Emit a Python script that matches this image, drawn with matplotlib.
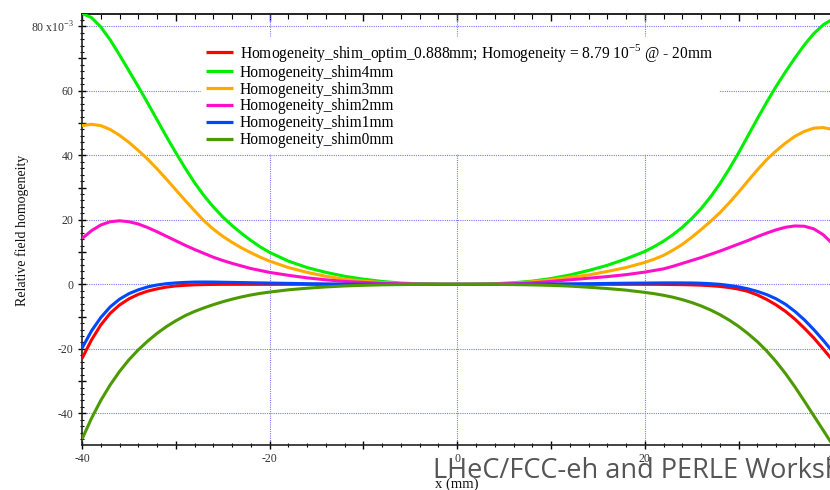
import matplotlib
matplotlib.use("Agg")
import matplotlib.pyplot as plt
from matplotlib.ticker import MultipleLocator, FuncFormatter

# ---------------- data ----------------
x_mm = [-40, -39, -38, -37, -36, -35, -34, -33, -32, -31, -30, -29, -28, -27, -26,
        -25, -24, -23, -22, -21, -20, -18, -16, -14, -12, -10, -8, -6, -4, -2, 0,
        2, 4, 6, 8, 10, 12, 14, 16, 18, 20, 21, 22, 23, 24, 25, 26, 27, 28, 29,
        30, 31, 32, 33, 34, 35, 36, 37, 38, 39, 40]

shim_optim = [-23.0, -17.3, -12.6, -9.0, -6.4, -4.5, -3.1, -2.1, -1.4, -0.85, -0.5, -0.3, -0.15, -0.08, -0.03,
              0.0, 0.0, 0.0, 0.0, 0.0, 0.0, 0.0, 0.0, 0.0, 0.0, 0.0, 0.0, 0.0, 0.0, 0.0, 0.0,
              0.0, 0.0, 0.0, 0.0, 0.0, 0.0, 0.0, 0.0, 0.0, 0.0, 0.0, -0.03, -0.06, -0.1, -0.17, -0.27, -0.42, -0.65, -1.0,
              -1.5, -2.2, -3.3, -4.7, -6.4, -8.4, -10.8, -13.6, -16.6, -20.0, -23.5]

shim4 = [84.0, 82.7, 79.8, 75.8, 71.1, 66.2, 61.3, 56.2, 51.0, 45.8, 40.8, 36.0, 31.5, 27.5, 24.0,
         20.9, 18.2, 15.8, 13.6, 11.6, 9.9, 7.2, 5.2, 3.7, 2.5, 1.6, 0.9, 0.4, 0.15, 0.03, 0.0,
         0.05, 0.2, 0.5, 1.0, 1.8, 2.9, 4.3, 5.9, 7.9, 10.2, 11.7, 13.4, 15.4, 17.7, 20.4, 23.5, 27.1, 31.2, 35.8,
         40.8, 46.1, 51.4, 56.5, 61.4, 65.9, 70.2, 74.2, 77.7, 80.4, 82.2]

shim3 = [49.2, 49.6, 49.2, 48.0, 46.2, 44.0, 41.5, 38.8, 35.8, 32.6, 29.3, 26.0, 22.8, 19.7, 17.1,
         14.9, 13.0, 11.3, 9.8, 8.4, 7.2, 5.2, 3.7, 2.5, 1.6, 1.0, 0.55, 0.25, 0.08, 0.01, 0.0,
         0.02, 0.12, 0.35, 0.8, 1.4, 2.2, 2.9, 4.0, 5.2, 6.8, 7.8, 9.0, 10.6, 12.4, 14.6, 17.0, 19.5, 22.2, 25.3,
         28.6, 32.1, 35.5, 38.7, 41.4, 43.8, 45.9, 47.4, 48.4, 48.6, 48.0]

shim2 = [14.2, 16.6, 18.4, 19.4, 19.7, 19.4, 18.7, 17.6, 16.3, 14.9, 13.5, 12.1, 10.8, 9.6, 8.4,
         7.4, 6.5, 5.7, 4.9, 4.3, 3.7, 2.8, 2.0, 1.4, 0.9, 0.6, 0.3, 0.15, 0.05, 0.01, 0.0,
         0.01, 0.06, 0.2, 0.45, 0.9, 1.4, 1.9, 2.4, 3.0, 3.8, 4.3, 4.8, 5.6, 6.5, 7.4, 8.3, 9.3, 10.3, 11.4,
         12.5, 13.6, 14.8, 15.9, 16.9, 17.7, 18.1, 18.0, 17.2, 15.4, 12.6]

shim1 = [-19.8, -14.5, -10.3, -7.0, -4.6, -2.9, -1.7, -0.8, -0.2, 0.2, 0.45, 0.6, 0.7, 0.72, 0.7,
         0.65, 0.6, 0.55, 0.5, 0.45, 0.4, 0.3, 0.2, 0.12, 0.07, 0.04, 0.02, 0.0, 0.0, 0.0, 0.0,
         0.0, 0.0, 0.02, 0.05, 0.1, 0.15, 0.2, 0.28, 0.35, 0.4, 0.42, 0.45, 0.45, 0.45, 0.42, 0.35, 0.2, 0.0, -0.35,
         -0.8, -1.4, -2.2, -3.2, -4.5, -6.2, -8.4, -11.0, -14.0, -17.3, -20.8]

shim0 = [-48.0, -41.6, -36.0, -31.2, -27.0, -23.4, -20.3, -17.6, -15.2, -13.1, -11.3, -9.7, -8.4, -7.3, -6.3,
         -5.4, -4.6, -3.9, -3.3, -2.8, -2.4, -1.7, -1.2, -0.8, -0.5, -0.3, -0.15, -0.07, -0.02, 0.0, 0.0,
         0.0, -0.02, -0.08, -0.17, -0.32, -0.55, -0.9, -1.3, -1.8, -2.5, -2.9, -3.4, -4.0, -4.75, -5.65, -6.7, -7.95, -9.4, -11.1,
         -13.05, -15.3, -17.8, -20.7, -24.0, -27.7, -31.8, -36.2, -40.7, -45.2, -49.7]

series_labels = [
    r"Homogeneity_shim_optim_0.888mm; Homogeneity = 8.79 10$^{\mathregular{-5}}$ @ - 20mm",
    "Homogeneity_shim4mm",
    "Homogeneity_shim3mm",
    "Homogeneity_shim2mm",
    "Homogeneity_shim1mm",
    "Homogeneity_shim0mm",
]
series_values = [shim_optim, shim4, shim3, shim2, shim1, shim0]
series_colors = ["#ff0000", "#00ee00", "#ffaa00", "#ff10c8", "#0048ff", "#4c9a00"]

x_grid_vals = [-20, 0, 20]
y_grid_vals = [-40, -20, 0, 20, 40, 60, 80]

# ---------------- figure ----------------
W, H = 830, 490
fig = plt.figure(figsize=(W / 100, H / 100), dpi=100)
plt.rcParams['font.family'] = ['Liberation Serif', 'DejaVu Serif']
plt.rcParams['mathtext.fontset'] = 'custom'
plt.rcParams['mathtext.rm'] = 'Liberation Serif'

left, right, top, bottom = 82, 832.5, 14.3, 445
ax = fig.add_axes([left / W, 1 - bottom / H, (right - left) / W, (bottom - top) / H])

for vals, col, lab in zip(series_values, series_colors, series_labels):
    ax.plot(x_mm, vals, color=col, lw=2.2, label=lab, zorder=3,
            solid_capstyle='butt', solid_joinstyle='round')

ax.set_xlim(-40, 40)
ax.set_ylim(-49.8, 83.7)

grid_kw = dict(color='#7878ff', lw=0.8, ls=(0, (1, 1)), zorder=1)
for gx in x_grid_vals:
    ax.axvline(gx, **grid_kw)
for gy in y_grid_vals:
    ax.axhline(gy, **grid_kw)

ax.xaxis.set_major_locator(MultipleLocator(10))
ax.xaxis.set_minor_locator(MultipleLocator(2))
ax.yaxis.set_major_locator(MultipleLocator(10))
ax.yaxis.set_minor_locator(MultipleLocator(2))


def xfmt(v, pos):
    iv = int(round(v))
    return str(iv) if iv % 20 == 0 else ""


def yfmt(v, pos):
    iv = int(round(v))
    if iv % 20 != 0:
        return ""
    if iv == 80:
        return r"80 x10$^{\mathregular{-3}}$"
    return str(iv)


ax.xaxis.set_major_formatter(FuncFormatter(xfmt))
ax.yaxis.set_major_formatter(FuncFormatter(yfmt))

ax.tick_params(axis='both', which='major', direction='inout', length=6, width=1.0,
               labelsize=8.5, colors='black', pad=3)
ax.tick_params(axis='both', which='minor', direction='inout', length=3.5, width=0.8)
ax.tick_params(axis='x', which='both', top=False)
ax.tick_params(axis='y', which='both', right=False)

# top axis: inward ticks only
secx = ax.secondary_xaxis('top')
secx.xaxis.set_major_locator(MultipleLocator(10))
secx.xaxis.set_minor_locator(MultipleLocator(2))
secx.tick_params(axis='x', which='major', direction='in', length=5, width=1.0, labeltop=False)
secx.tick_params(axis='x', which='minor', direction='in', length=3.5, width=0.8)
secx.spines['top'].set_linewidth(1.2)
secx.spines['top'].set_color('#222222')

for s in ['left', 'bottom', 'top']:
    ax.spines[s].set_linewidth(1.2)
    ax.spines[s].set_color('#222222')
ax.spines['right'].set_visible(False)
for lbl in ax.get_xticklabels() + ax.get_yticklabels():
    lbl.set_color('#333333')

leg = ax.legend(loc='upper left', bbox_to_anchor=(201 / W, 1 - 37 / H),
                bbox_transform=fig.transFigure, fontsize=11.2, frameon=True,
                fancybox=False, framealpha=1, facecolor='white', edgecolor='white',
                handlelength=1.75, handletextpad=0.45, labelspacing=0.06,
                borderpad=0.3, borderaxespad=0)
leg.set_zorder(5)
for line in leg.get_lines():
    line.set_linewidth(2.3)

fig.text(22 / W, 1 - 230 / H, "Relative field homogeneity", rotation=90,
         ha='center', va='center', fontsize=10, color='#111111')
fig.text(457 / W, 1 - 484 / H, "x (mm)", ha='center', va='center',
         fontsize=10.5, color='#111111')

fig.text(433 / W, 1 - 478 / H, "LHeC/FCC-eh and PERLE Workshop",
         family=['Open Sans', 'DejaVu Sans'], fontsize=19.5, color='#555555',
         ha='left', va='baseline', zorder=10)

fig.savefig("out.png", dpi=100)
